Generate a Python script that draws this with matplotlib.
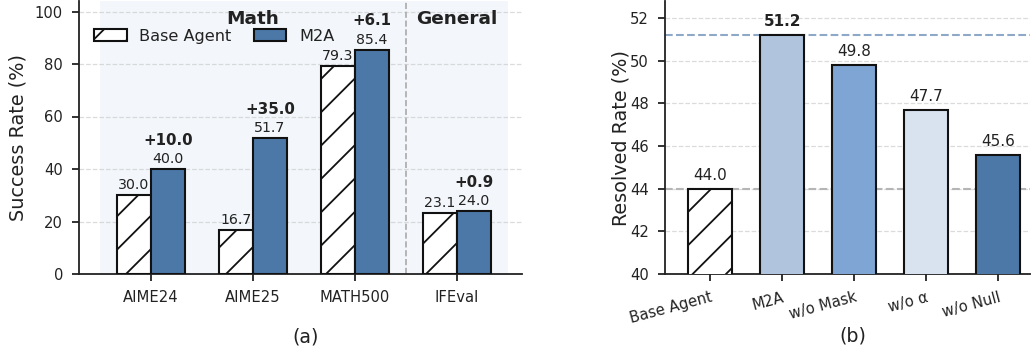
import matplotlib
matplotlib.use('Agg')
import matplotlib.pyplot as plt
import numpy as np

# ========== STYLE ==========
DPI = 100
plt.rcParams.update({
    'font.family': 'DejaVu Sans',
    'font.size': 10.6,
    'xtick.labelsize': 10.6,
    'ytick.labelsize': 10.6,
    'axes.labelsize': 13.9,
    'axes.linewidth': 1.3,
    'xtick.major.width': 1.3,
    'ytick.major.width': 1.3,
    'xtick.major.size': 5.0,
    'ytick.major.size': 5.0,
    'xtick.major.pad': 6.5,
    'ytick.major.pad': 6.5,
    'hatch.linewidth': 1.3,
    'text.color': '#222222',
    'axes.labelcolor': '#222222',
    'xtick.color': '#222222',
    'ytick.color': '#222222',
    'axes.edgecolor': '#222222',
})

# ========== DATA ==========
benchmarks = ['AIME24', 'AIME25', 'MATH500', 'IFEval']
base_acc = [30.0, 16.7, 79.3, 23.1]
m2a_acc = [40.0, 51.7, 85.4, 24.0]

variants = ['Base Agent', 'M2A', 'w/o Mask', 'w/o α', 'w/o Null']
resolved = [44.0, 51.2, 49.8, 47.7, 45.6]

c_m2a = '#4C78A8'
variant_colors = ['white', '#B0C4DE', '#7FA5D5', '#D9E3F0', '#4C78A8']
shade = '#F3F6FA'
grid_kw = dict(color='#cccccc', linestyle='--', linewidth=0.9, alpha=0.7)

fig = plt.figure(figsize=(1031 / DPI, 352 / DPI), dpi=DPI)

# ========== (a) Success rate ==========
ax = fig.add_axes([79 / 1031, 78 / 352, 443 / 1031, 273 / 352])
x = np.arange(len(benchmarks))
w = 0.335

ax.axvspan(-0.5, 2.5, color=shade, zorder=0, lw=0)
ax.axvspan(2.5, 3.5, color=shade, zorder=0, lw=0)
ax.axvline(2.5, color='#aaaaaa', linestyle='--', linewidth=1.2, zorder=1)
ax.set_axisbelow(True)
ax.yaxis.grid(True, **grid_kw)

ax.bar(x - w / 2, base_acc, w, color='white', edgecolor='#111111',
       hatch='/', linewidth=1.5, label='Base Agent', zorder=3)
ax.bar(x + w / 2, m2a_acc, w, color=c_m2a, edgecolor='#111111',
       linewidth=1.5, label='M2A', zorder=3)

for i in range(len(benchmarks)):
    ax.text(x[i] - w / 2, base_acc[i] + 2.3, f'{base_acc[i]:.1f}',
            ha='center', va='baseline', fontsize=10.2)
    ax.text(x[i] + w / 2, m2a_acc[i] + 2.3, f'{m2a_acc[i]:.1f}',
            ha='center', va='baseline', fontsize=10.2)
    ax.text(x[i] + w / 2, m2a_acc[i] + 9.3, f'+{m2a_acc[i] - base_acc[i]:.1f}',
            ha='center', va='baseline', fontsize=10.8, fontweight='bold')

ax.text(1.0, 95.2, 'Math', ha='center', va='baseline', fontsize=13.3, fontweight='bold')
ax.text(3.0, 95.2, 'General', ha='center', va='baseline', fontsize=13.3, fontweight='bold')

ax.set_xlim(-0.706, 3.64)
ax.set_ylim(0, 104)
ax.set_yticks(np.arange(0, 101, 20))
ax.set_xticks(x)
ax.set_xticklabels(benchmarks)
ax.set_ylabel('Success Rate (%)', labelpad=5)
for s in ['top', 'right']:
    ax.spines[s].set_visible(False)
ax.legend(loc='upper left', bbox_to_anchor=(0.02, 0.922), ncol=2, frameon=False,
          fontsize=11.6, columnspacing=1.4, handletextpad=0.8, borderaxespad=0)

# ========== (b) Resolved rate ==========
ax2 = fig.add_axes([665 / 1031, 78 / 352, 365 / 1031, 273 / 352])
xb = np.arange(len(variants))
ax2.set_axisbelow(True)
ax2.yaxis.grid(True, **grid_kw)
ax2.axhline(resolved[1], color='#8EA8C8', linestyle='--', linewidth=1.5, zorder=1)
ax2.axhline(resolved[0], color='#b5b5b5', linestyle='--', linewidth=1.5, zorder=1)

bars = ax2.bar(xb, resolved, 0.615, color=variant_colors, edgecolor='#111111',
               linewidth=1.5, zorder=3)
bars[0].set_hatch('/')

for i, v in enumerate(resolved):
    ax2.text(xb[i], v + 0.42, f'{v:.1f}', ha='center', va='baseline',
             fontsize=11.0, fontweight='bold' if i == 1 else 'normal')

ax2.set_xlim(-0.625, 4.44)
ax2.set_ylim(40, 52.8)
ax2.set_yticks(np.arange(40, 53, 2))
ax2.set_xticks(xb)
ax2.set_xticklabels(variants, rotation=15, ha='right', rotation_mode='anchor')
ax2.set_ylabel('Resolved Rate (%)', labelpad=0)
for s in ['top', 'right']:
    ax2.spines[s].set_visible(False)

fig.text(306 / 1031, 1 - 337 / 352, '(a)', ha='center', va='center', fontsize=13.7)
fig.text(853 / 1031, 1 - 336 / 352, '(b)', ha='center', va='center', fontsize=13.7)

fig.savefig('out.png', dpi=DPI)
